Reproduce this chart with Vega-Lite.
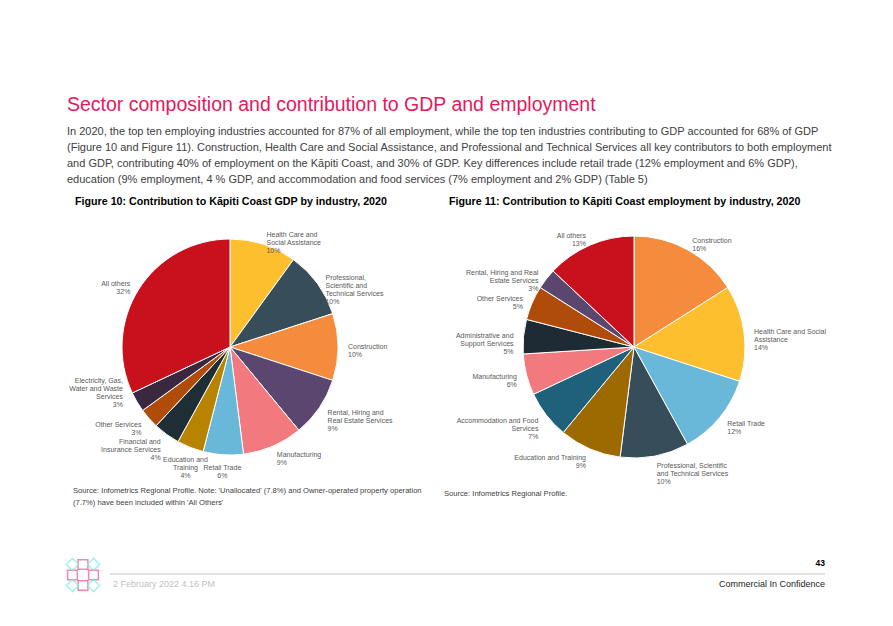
{
  "$schema": "https://vega.github.io/schema/vega-lite/v6.json",
  "background": "white",
  "padding": {"left": 60, "top": 94, "right": 0, "bottom": 0},
  "config": {"view": {"stroke": null}, "font": "Liberation Sans"},
  "title": {
    "text": "Sector composition and contribution to GDP and employment",
    "subtitle": [
      "In 2020, the top ten employing industries accounted for 87% of all employment, while the top ten industries contributing to GDP accounted for 68% of GDP",
      "(Figure 10 and Figure 11). Construction, Health Care and Social Assistance, and Professional and Technical Services all key contributors to both employment",
      "and GDP, contributing 40% of employment on the Kāpiti Coast, and 30% of GDP. Key differences include retail trade (12% employment and 6% GDP),",
      "education (9% employment, 4 % GDP, and accommodation and food services (7% employment and 2% GDP) (Table 5)"
    ],
    "anchor": "start",
    "frame": "bounds",
    "dx": 7,
    "font": "Liberation Sans",
    "fontSize": 19.5,
    "fontWeight": "normal",
    "color": "#E6185C",
    "subtitleFont": "Liberation Sans",
    "subtitleFontSize": 11,
    "subtitleColor": "#404040",
    "subtitleLineHeight": 16,
    "subtitlePadding": 11,
    "offset": 10
  },
  "vconcat": [
    {
      "hconcat": [
        {
          "title": {
            "text": ["Source: Infometrics Regional Profile. Note: 'Unallocated' (7.8%) and Owner-operated property operation", "(7.7%) have been included within 'All Others'"],
            "orient": "bottom", "anchor": "start", "dx": 13, "offset": 5,
            "font": "Liberation Sans", "fontSize": 7.6, "fontWeight": "normal", "color": "#404040", "lineHeight": 12
          },
          "resolve": {"scale": {"color": "independent", "theta": "independent"}},
          "vconcat": [
            {
              "width": 340,
              "height": 270,
              "title": {"text": "Figure 10: Contribution to Kāpiti Coast GDP by industry, 2020", "anchor": "start", "dx": 15, "offset": 4, "font": "Liberation Sans", "fontSize": 10.7, "fontWeight": "bold", "color": "#000000"},
              "data": {"values": [
                {"i": 1, "name": "Health Care and Social Assistance", "v": 10, "label": "Health Care and\nSocial Assistance\n10%"},
                {"i": 2, "name": "Professional, Scientific and Technical Services", "v": 10, "label": "Professional,\nScientific and\nTechnical Services\n10%"},
                {"i": 3, "name": "Construction", "v": 10, "label": "Construction\n10%"},
                {"i": 4, "name": "Rental, Hiring and Real Estate Services", "v": 9, "label": "Rental, Hiring and\nReal Estate Services\n9%"},
                {"i": 5, "name": "Manufacturing", "v": 9, "label": "Manufacturing\n9%"},
                {"i": 6, "name": "Retail Trade", "v": 6, "label": "Retail Trade\n6%"},
                {"i": 7, "name": "Education and Training", "v": 4, "label": "Education and\nTraining\n4%"},
                {"i": 8, "name": "Financial and Insurance Services", "v": 4, "label": "Financial and\nInsurance Services\n4%"},
                {"i": 9, "name": "Other Services", "v": 3, "label": "Other Services\n3%"},
                {"i": 10, "name": "Electricity, Gas, Water and Waste Services", "v": 3, "label": "Electricity, Gas,\nWater and Waste\nServices\n3%"},
                {"i": 11, "name": "All others", "v": 32, "label": "All others\n32%"}
              ]},
              "encoding": {
                "theta": {"field": "v", "type": "quantitative", "stack": true},
                "order": {"field": "i", "type": "quantitative"},
                "color": {
                  "field": "name", "type": "nominal", "legend": null,
                  "scale": {
                    "domain": ["Health Care and Social Assistance", "Professional, Scientific and Technical Services", "Construction", "Rental, Hiring and Real Estate Services", "Manufacturing", "Retail Trade", "Education and Training", "Financial and Insurance Services", "Other Services", "Electricity, Gas, Water and Waste Services", "All others"],
                    "range": ["#FDBF2D", "#374E5A", "#F58B3D", "#5B4670", "#F2797D", "#6AB8D9", "#B88400", "#1F2D35", "#B04C0A", "#3A2840", "#C8111D"]
                  }
                }
              },
              "layer": [
                {"mark": {"type": "arc", "outerRadius": 108, "stroke": "white", "strokeWidth": 1}},
                {
                  "mark": {"type": "text", "radius": 118, "align": "left", "baseline": "middle", "fontSize": 7, "lineHeight": 8, "lineBreak": "\n", "font": "Liberation Sans"},
                  "encoding": {"text": {"field": "label"}, "color": {"value": "#595959"}, "opacity": {"condition": {"test": "datum.v_start + datum.v_end < 100", "value": 1}, "value": 0}}
                },
                {
                  "mark": {"type": "text", "radius": 121, "align": "center", "baseline": "middle", "fontSize": 7, "lineHeight": 8, "lineBreak": "\n", "font": "Liberation Sans"},
                  "encoding": {"text": {"field": "label"}, "color": {"value": "#595959"}, "opacity": {"condition": {"test": "datum.v_start + datum.v_end >= 100 && datum.v_start + datum.v_end < 115", "value": 1}, "value": 0}}
                },
                {
                  "mark": {"type": "text", "radius": 118, "align": "right", "baseline": "middle", "fontSize": 7, "lineHeight": 8, "lineBreak": "\n", "font": "Liberation Sans"},
                  "encoding": {"text": {"field": "label"}, "color": {"value": "#595959"}, "opacity": {"condition": {"test": "datum.v_start + datum.v_end >= 115 && datum.i != 10", "value": 1}, "value": 0}}
                },
                {
                  "mark": {"type": "text", "radius": 100, "align": "right", "baseline": "bottom", "dx": -21, "dy": -14, "fontSize": 7, "lineHeight": 8, "lineBreak": "\n", "font": "Liberation Sans"},
                  "encoding": {"text": {"field": "label"}, "color": {"value": "#595959"}, "opacity": {"condition": {"test": "datum.i == 10", "value": 1}, "value": 0}}
                }
              ]
            }
          ]
        },
        {
          "title": {
            "text": "Source: Infometrics Regional Profile.",
            "orient": "bottom", "anchor": "start", "dx": -5, "offset": 5,
            "font": "Liberation Sans", "fontSize": 7.6, "fontWeight": "normal", "color": "#404040"
          },
          "resolve": {"scale": {"color": "independent", "theta": "independent"}},
          "vconcat": [
            {
              "width": 360,
              "height": 270,
              "title": {"text": "Figure 11: Contribution to Kāpiti Coast employment by industry, 2020", "anchor": "start", "dx": -5, "offset": 4, "font": "Liberation Sans", "fontSize": 10.7, "fontWeight": "bold", "color": "#000000"},
              "data": {"values": [
                {"i": 1, "name": "Construction", "v": 16, "label": "Construction\n16%"},
                {"i": 2, "name": "Health Care and Social Assistance", "v": 14, "label": "Health Care and Social\nAssistance\n14%"},
                {"i": 3, "name": "Retail Trade", "v": 12, "label": "Retail Trade\n12%"},
                {"i": 4, "name": "Professional, Scientific and Technical Services", "v": 10, "label": "Professional, Scientific\nand Technical Services\n10%"},
                {"i": 5, "name": "Education and Training", "v": 9, "label": "Education and Training\n9%"},
                {"i": 6, "name": "Accommodation and Food Services", "v": 7, "label": "Accommodation and Food\nServices\n7%"},
                {"i": 7, "name": "Manufacturing", "v": 6, "label": "Manufacturing\n6%"},
                {"i": 8, "name": "Administrative and Support Services", "v": 5, "label": "Administrative and\nSupport Services\n5%"},
                {"i": 9, "name": "Other Services", "v": 5, "label": "Other Services\n5%"},
                {"i": 10, "name": "Rental, Hiring and Real Estate Services", "v": 3, "label": "Rental, Hiring and Real\nEstate Services\n3%"},
                {"i": 11, "name": "All others", "v": 13, "label": "All others\n13%"}
              ]},
              "encoding": {
                "theta": {"field": "v", "type": "quantitative", "stack": true},
                "order": {"field": "i", "type": "quantitative"},
                "color": {
                  "field": "name", "type": "nominal", "legend": null,
                  "scale": {
                    "domain": ["Construction", "Health Care and Social Assistance", "Retail Trade", "Professional, Scientific and Technical Services", "Education and Training", "Accommodation and Food Services", "Manufacturing", "Administrative and Support Services", "Other Services", "Rental, Hiring and Real Estate Services", "All others"],
                    "range": ["#F58B3D", "#FDBF2D", "#6AB8D9", "#374E5A", "#9C6A00", "#1F617B", "#F2797D", "#1F2B34", "#B04C0A", "#5B4670", "#C8111D"]
                  }
                }
              },
              "layer": [
                {"mark": {"type": "arc", "outerRadius": 111, "stroke": "white", "strokeWidth": 1}},
                {
                  "mark": {"type": "text", "radius": 121, "align": "left", "baseline": "middle", "fontSize": 7, "lineHeight": 8, "lineBreak": "\n", "font": "Liberation Sans"},
                  "encoding": {"text": {"field": "label"}, "color": {"value": "#595959"}, "opacity": {"condition": {"test": "datum.v_start + datum.v_end < 100", "value": 1}, "value": 0}}
                },
                {
                  "mark": {"type": "text", "radius": 121, "align": "right", "baseline": "middle", "fontSize": 7, "lineHeight": 8, "lineBreak": "\n", "font": "Liberation Sans"},
                  "encoding": {"text": {"field": "label"}, "color": {"value": "#595959"}, "opacity": {"condition": {"test": "datum.v_start + datum.v_end >= 100", "value": 1}, "value": 0}}
                }
              ]
            }
          ]
        }
      ],
      "spacing": 22,
      "resolve": {"scale": {"color": "independent", "theta": "independent"}}
    },
    {
      "width": 765,
      "height": 45,
      "data": {"values": [
        {"gx": 1, "gy": 0, "k": "p"}, {"gx": 0, "gy": 1, "k": "p"}, {"gx": 2, "gy": 1, "k": "p"}, {"gx": 1, "gy": 2, "k": "p"},
        {"gx": 0, "gy": 0, "k": "c"}, {"gx": 2, "gy": 0, "k": "c"}, {"gx": 0, "gy": 2, "k": "c"}, {"gx": 2, "gy": 2, "k": "c"}
      ]},
      "layer": [
        {
          "mark": {"type": "point", "filled": false, "strokeWidth": 1.5},
          "encoding": {
            "x": {"field": "gx", "type": "quantitative", "scale": {"domain": [0, 2], "range": [12.5, 33.5]}, "axis": null},
            "y": {"field": "gy", "type": "quantitative", "scale": {"domain": [0, 2], "range": [9.5, 30.5]}, "axis": null},
            "shape": {"field": "k", "type": "nominal", "scale": {"domain": ["p", "c"], "range": ["square", "diamond"]}, "legend": null},
            "size": {"field": "k", "type": "nominal", "scale": {"domain": ["p", "c"], "range": [95, 150]}, "legend": null},
            "color": {"field": "k", "type": "nominal", "scale": {"domain": ["p", "c"], "range": ["#F0568E", "#7EECEC"]}, "legend": null}
          }
        },
        {
          "data": {"values": [{}]},
          "mark": {"type": "rule", "color": "#D9D9D9", "strokeWidth": 1.5},
          "encoding": {"x": {"value": 50}, "x2": {"value": 765}, "y": {"value": 19}}
        },
        {
          "data": {"values": [{}]},
          "mark": {"type": "text", "text": "43", "align": "right", "baseline": "middle", "fontSize": 8.5, "fontWeight": "bold", "color": "#000000", "font": "Liberation Sans"},
          "encoding": {"x": {"value": 765}, "y": {"value": 8}}
        },
        {
          "data": {"values": [{}]},
          "mark": {"type": "text", "text": "Commercial In Confidence", "align": "right", "baseline": "middle", "fontSize": 9, "color": "#222222", "font": "Liberation Sans"},
          "encoding": {"x": {"value": 765}, "y": {"value": 29}}
        },
        {
          "data": {"values": [{}]},
          "mark": {"type": "text", "text": "2 February 2022 4.16 PM", "align": "left", "baseline": "middle", "fontSize": 9, "color": "#BFBFBF", "font": "Liberation Sans"},
          "encoding": {"x": {"value": 53}, "y": {"value": 29}}
        }
      ]
    }
  ],
  "spacing": 48
}
